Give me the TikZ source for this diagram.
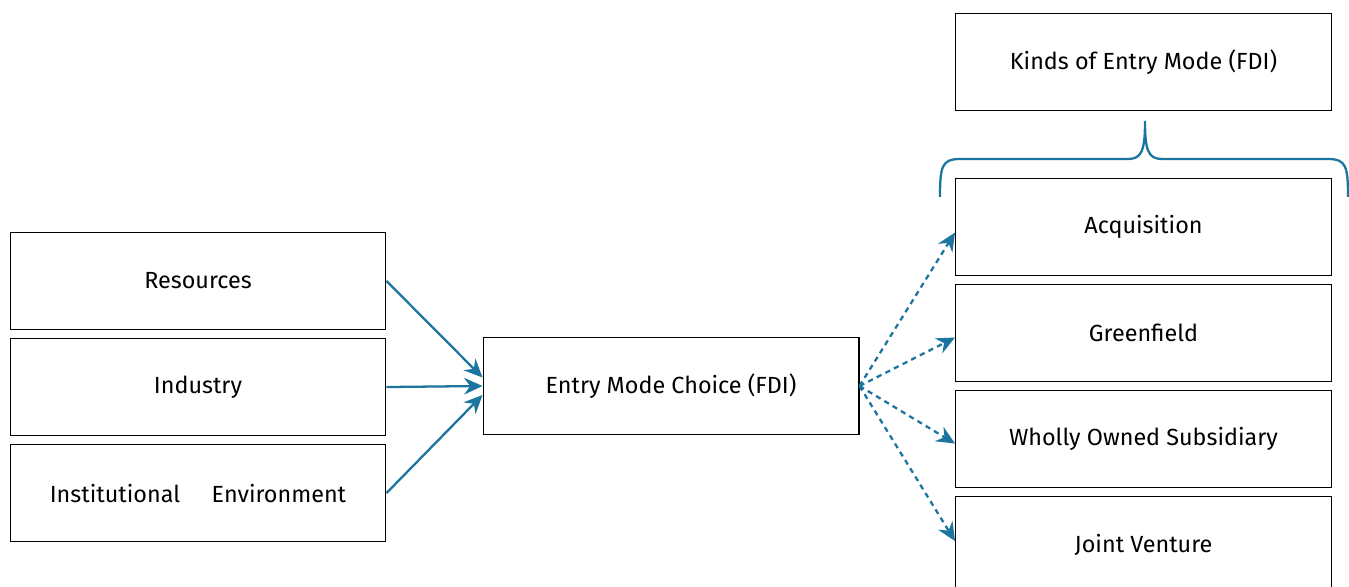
\documentclass[tikz,border=0pt]{standalone}
\usepackage{fontspec}
\setmainfont{Fira Sans}
\usepackage{tikz}
\usetikzlibrary{arrows.meta,positioning}
\definecolor{linkblue}{RGB}{27,117,158}

\begin{document}
\begin{tikzpicture}[x=0.02cm, y=-0.02cm, node distance=0.16cm,
  box/.style={draw, line width=0.6pt, minimum width=7.52cm, minimum height=1.94cm,
    inner sep=0pt, font=\fontsize{13.3}{16}\selectfont},
  factor/.style={-{Stealth[length=10.5pt, width=9.5pt, inset=3.5pt]}, draw=linkblue, line width=1.3pt},
  option/.style={factor, dash pattern=on 3pt off 2.5pt},
  brace/.style={draw=linkblue, line width=1.3pt}]
  \useasboundingbox (0,0) rectangle (1349,587);
  % influences on the entry mode
  \node[box]                 (res)   at (198,281)  {Resources};
  \node[box, below=of res]   (ind)                 {Industry};
  \node[box, below=of ind]   (inst)                {Institutional\hspace{18pt}Environment};
  \node[box]                 (emc)   at (671,386) {Entry Mode Choice (FDI)};
  % kinds of entry mode
  \node[box]                 (kinds) at (1143.5,62)  {Kinds of Entry Mode (FDI)};
  \node[box]                 (acq)   at (1143.5,227) {Acquisition};
  \node[box, below=of acq]   (green)               {Greenfield};
  \node[box, below=of green] (wos)                 {Wholly Owned Subsidiary};
  \node[box, below=of wos]   (jv)                  {Joint Venture};
  \path (res.east)  edge [factor] ([yshift=0.17cm]emc.west)
        (ind.east)  edge [factor] (emc.west)
        (inst.east) edge [factor] ([yshift=-0.18cm]emc.west);
  \path (emc.east)  edge [option] ([yshift=-0.11cm]acq.west)
                    edge [option] ([yshift=-0.09cm]green.west)
                    edge [option] ([yshift=-0.09cm]wos.west)
                    edge [option] ([yshift=0.08cm]jv.west);
  % brace
  \draw[brace] (940,197) .. controls (940,166) and (942,159) .. (960,159) -- (1128,159)
    .. controls (1142,159) and (1145,150) .. (1145,121)
    .. controls (1145,150) and (1148,159) .. (1162,159) -- (1328,159)
    .. controls (1346,159) and (1348,166) .. (1348,197);
\end{tikzpicture}
\end{document}
